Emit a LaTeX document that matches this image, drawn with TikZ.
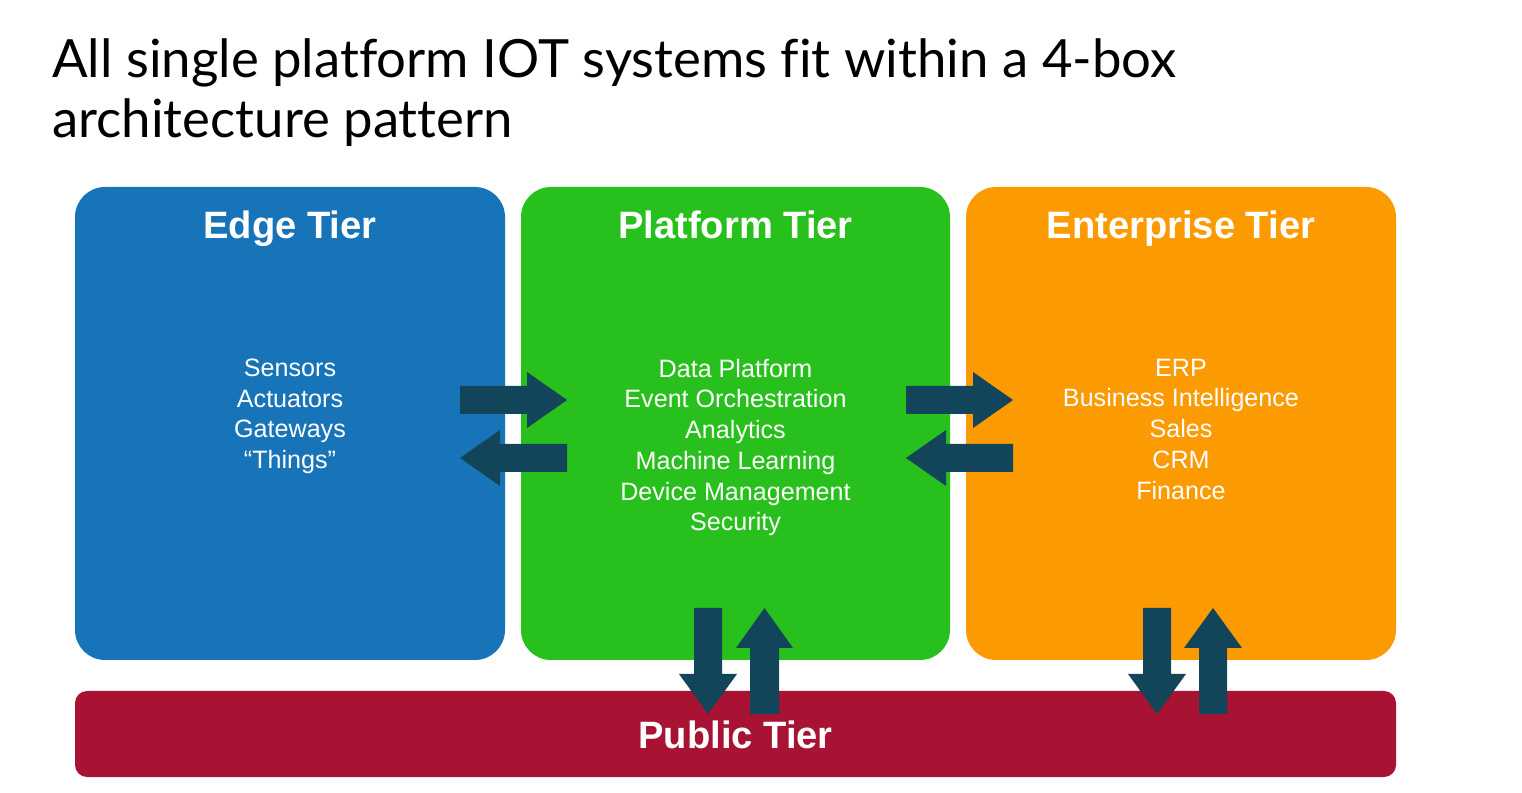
\documentclass[tikz,border=0pt]{standalone}
\usepackage{fontspec}
\setmainfont{Liberation Sans}
\newfontfamily\titlefont[Ligatures=NoCommon]{Lato}
\definecolor{edgeblue}{HTML}{1874B8}
\definecolor{platgreen}{HTML}{28C01C}
\definecolor{entorange}{HTML}{FC9A02}
\definecolor{pubred}{HTML}{A81233}
\definecolor{arrowteal}{HTML}{13455A}
\tikzset{
  tierbox/.style={rounded corners=30*0.02cm},
  tierhead/.style={text=white,font=\bfseries\fontsize{21.7}{26}\selectfont,inner sep=0pt,anchor=base},
  tierbody/.style={text=white,align=center,font=\fontsize{14.3}{17.5}\selectfont,inner sep=0pt},
  blockarrow/.style={fill=arrowteal,draw=none},
}
\begin{document}
\begin{tikzpicture}[x=0.02cm,y=-0.02cm]
\useasboundingbox (0,0) rectangle (1522,793);
% title
\node[anchor=north west,inner sep=0pt,align=left,font=\titlefont\fontsize{30}{34.3}\selectfont] (title) at (52,38)
  {All single platform IOT systems fit within a 4-box\\architecture pattern};
% boxes
\fill[edgeblue,tierbox] (75,187) rectangle (505,660);
\fill[platgreen,tierbox] (521,187) rectangle (950,660);
\fill[entorange,tierbox] (966,187) rectangle (1396,660);
\fill[pubred,rounded corners=12*0.02cm] (75,691) rectangle (1396,777);
% headings
\node[tierhead] (edgehead) at (290,239) {Edge Tier};
\node[tierhead] (plathead) at (735.5,239) {Platform Tier};
\node[tierhead] (enthead) at (1181,239) {Enterprise Tier};
\node[tierhead] (pubhead) at (735.5,748) {Public Tier};
% bodies
\node[tierbody,anchor=north] (edgebody) at (290,358.5) {Sensors\\Actuators\\Gateways\\“Things”};
\node[tierbody,anchor=north] (platbody) at (735.5,358.5) {Data Platform\\Event Orchestration\\Analytics\\Machine Learning\\Device Management\\Security};
\node[tierbody,anchor=north] (entbody) at (1181,358.5) {ERP\\Business Intelligence\\Sales\\CRM\\Finance};
% horizontal arrows
\fill[blockarrow] (460,386) -- (527,386) -- (527,372) -- (567,400) -- (527,428) -- (527,414) -- (460,414) -- cycle;
\fill[blockarrow] (567,444) -- (500,444) -- (500,430) -- (460,458) -- (500,486) -- (500,472) -- (567,472) -- cycle;
\fill[blockarrow] (906,386) -- (973,386) -- (973,372) -- (1013,400) -- (973,428) -- (973,414) -- (906,414) -- cycle;
\fill[blockarrow] (1013,444) -- (946,444) -- (946,430) -- (906,458) -- (946,486) -- (946,472) -- (1013,472) -- cycle;
% vertical arrows
\fill[blockarrow] (694,608) -- (722,608) -- (722,674) -- (737,674) -- (708,714) -- (679,674) -- (694,674) -- cycle;
\fill[blockarrow] (750,714) -- (779,714) -- (779,648) -- (793,648) -- (764.5,608) -- (736,648) -- (750,648) -- cycle;
\fill[blockarrow] (1143,608) -- (1171,608) -- (1171,674) -- (1186,674) -- (1157,714) -- (1128,674) -- (1143,674) -- cycle;
\fill[blockarrow] (1199,714) -- (1227,714) -- (1227,648) -- (1242,648) -- (1213,608) -- (1184,648) -- (1199,648) -- cycle;
\end{tikzpicture}
\end{document}
